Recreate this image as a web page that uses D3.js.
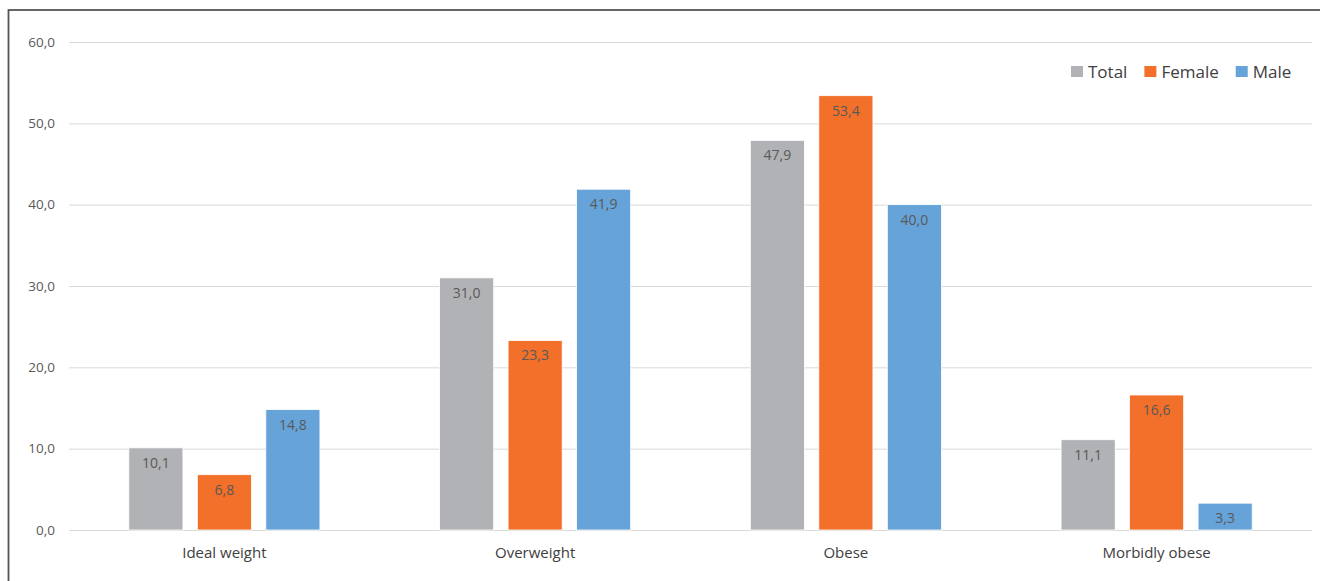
<!doctype html>
<html>
<head>
	<meta charset="utf-8">
	<title>Weight categories</title>
	<script src="https://cdn.jsdelivr.net/npm/d3@7"></script>
	<style>
		body { margin: 0; background: #fff; }
		text { font-family: "Open Sans", "Noto Sans", sans-serif; }
	</style>
</head>
<body>
<script>

const categories = ["Ideal weight", "Overweight", "Obese", "Morbidly obese"];
const seriesNames = ["Total", "Female", "Male"];
const totalValues = [10.1, 31.0, 47.9, 11.1];
const femaleValues = [6.8, 23.3, 53.4, 16.6];
const maleValues = [14.8, 41.9, 40.0, 3.3];
const yTicks = [0, 10, 20, 30, 40, 50, 60];
const colors = ["#b1b2b5", "#f27029", "#65a3d9"];

const w = 1320;
const h = 581;
const margin = {top: 42, right: 8, bottom: 51, left: 69};

const svg = d3.select("body").append("svg")
	.attr("width", w)
	.attr("height", h);

// outer frame (right and bottom edges are off the picture)
svg.append("rect")
	.attr("x", 8.5)
	.attr("y", 10)
	.attr("width", w + 20)
	.attr("height", h + 20)
	.attr("fill", "none")
	.attr("stroke", "#555555")
	.attr("stroke-width", 1.8);

const y = d3.scaleLinear()
	.domain([0, 60])
	.range([h - margin.bottom, margin.top]);

const x0 = d3.scaleBand()
	.domain(categories)
	.range([margin.left, w - margin.right])
	.paddingInner(0.385)
	.paddingOuter(0.1925);

const x1 = d3.scaleBand()
	.domain(seriesNames)
	.range([0, x0.bandwidth()])
	.paddingInner(0.21);

const color = d3.scaleOrdinal().domain(seriesNames).range(colors);
const fmt = v => d3.format(".1f")(v).replace(".", ",");

// gridlines + y labels
const yAxis = svg.append("g")
	.attr("transform", `translate(${margin.left},0)`)
	.call(d3.axisLeft(y)
		.tickValues(yTicks)
		.tickSize(-(w - margin.right - margin.left))
		.tickPadding(14)
		.tickFormat(fmt));
yAxis.select(".domain").remove();
yAxis.selectAll(".tick line").attr("stroke", "#d9d9d9").attr("stroke-width", 1);
yAxis.selectAll(".tick text")
	.attr("fill", "#595959")
	.style("font-size", "13.5px");

const rows = categories.map((c, i) => ({
	category: c,
	values: [
		{name: "Total", value: totalValues[i]},
		{name: "Female", value: femaleValues[i]},
		{name: "Male", value: maleValues[i]}
	]
}));

const groups = svg.selectAll("g.cat")
	.data(rows)
	.enter().append("g")
	.attr("class", "cat")
	.attr("transform", d => `translate(${x0(d.category)},0)`);

groups.selectAll("rect")
	.data(d => d.values)
	.enter().append("rect")
	.attr("x", d => x1(d.name))
	.attr("y", d => y(d.value))
	.attr("width", x1.bandwidth())
	.attr("height", d => y(0) - y(d.value))
	.attr("fill", d => color(d.name))
	.attr("stroke", "#ffffff")
	.attr("stroke-width", 0.8);

groups.selectAll("text.val")
	.data(d => d.values)
	.enter().append("text")
	.attr("class", "val")
	.attr("x", d => x1(d.name) + x1.bandwidth() / 2)
	.attr("y", d => y(d.value) + 20)
	.attr("text-anchor", "middle")
	.attr("fill", "#595959")
	.style("font-size", "14px")
	.text(d => fmt(d.value));

// category labels
svg.selectAll("text.catlabel")
	.data(categories)
	.enter().append("text")
	.attr("class", "catlabel")
	.attr("x", d => x0(d) + x0.bandwidth() / 2)
	.attr("y", h - margin.bottom + 28)
	.attr("text-anchor", "middle")
	.attr("fill", "#404040")
	.style("font-size", "15px")
	.text(d => d);

// legend
const legend = svg.append("g").attr("transform", "translate(1071,72)");
let lx = 0;
seriesNames.forEach((s, i) => {
	const item = legend.append("g").attr("transform", `translate(${lx},0)`);
	item.append("rect")
		.attr("x", 0).attr("y", -6)
		.attr("width", 12).attr("height", 11)
		.attr("fill", colors[i]);
	const t = item.append("text")
		.attr("x", 17)
		.attr("y", 6)
		.attr("fill", "#404040")
		.style("font-size", "17px")
		.text(s);
	lx += 17 + t.node().getComputedTextLength() + 17;
});

</script>
</body>
</html>
